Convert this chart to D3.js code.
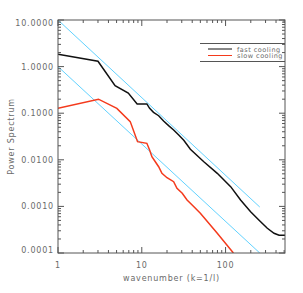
<!DOCTYPE html>
<html lang="en">
  <head>
    <meta charset="UTF-8" />
    <title>Power Spectrum</title>
    <script src="https://cdnjs.cloudflare.com/ajax/libs/d3/7.8.5/d3.min.js"></script>
    <style>
      body,
      html {
        margin: 0;
        padding: 0;
        background: #fff;
      }
      text {
        font-family: "DejaVu Sans", sans-serif;
        font-size: 8px;
        fill: #6a6a6a;
        letter-spacing: 0.8px;
      }
    </style>
  </head>
  <body>
    <svg id="chart" width="303" height="293"></svg>
    <script type="text/javascript">
      // fast cooling (black)
      const fastK = [1, 3.0, 4.8, 6.9, 8.8, 11.5, 12.4, 13.8, 15.9, 18.2, 20.9, 24, 27.6, 31.7, 38, 55, 79.6, 115, 151, 199, 262, 315, 379, 435, 512];
      const fastP = [1.84, 1.3, 0.39, 0.27, 0.158, 0.158, 0.127, 0.1045, 0.0883, 0.068, 0.054, 0.0436, 0.034, 0.0262, 0.0168, 0.0091, 0.00513, 0.00265, 0.00137, 0.00077, 0.00047, 0.00034, 0.000265, 0.00024, 0.00024];

      // slow cooling (red)
      const slowK = [1, 3.04, 5.04, 7.28, 8.9, 11.5, 12.4, 13.2, 14.5, 15.9, 17.4, 20, 24, 26.3, 30.4, 34.7, 39.9, 50, 79.6, 124];
      const slowP = [0.127, 0.2, 0.127, 0.066, 0.0245, 0.0226, 0.0162, 0.0117, 0.0091, 0.0071, 0.00513, 0.00413, 0.00339, 0.00244, 0.00191, 0.00137, 0.00107, 0.00071, 0.000265, 0.0001];

      // reference slopes (cyan), end points only
      const refUpperK = [1, 256];
      const refUpperP = [10, 0.00097];
      const refLowerK = [1, 256];
      const refLowerP = [1, 0.0001];

      const xTicks = [1, 10, 100];
      const xTickLabels = ["1", "10", "100"];
      const yTicks = [10, 1, 0.1, 0.01, 0.001, 0.0001];
      const yTickLabels = ["10.0000", "1.0000", "0.1000", "0.0100", "0.0010", "0.0001"];

      const legendNames = ["fast cooling", "slow cooling"];
      const legendColors = ["#111", "#f43a1c"];

      const svg = d3.select("#chart");
      const pLeft = 58, pRight = 285, pTop = 20, pBottom = 253;

      const x = d3.scaleLog().domain([1, 512]).range([pLeft, pRight]);
      const y = d3.scaleLog().domain([0.0001, 10]).range([pBottom, pTop]);

      svg.append("defs").append("clipPath").attr("id", "clip")
        .append("rect")
        .attr("x", pLeft).attr("y", pTop)
        .attr("width", pRight - pLeft).attr("height", pBottom - pTop);

      const line = d3.line().x((d) => x(d[0])).y((d) => y(d[1]));
      const zip = (a, b) => a.map((v, i) => [v, b[i]]);

      const plot = svg.append("g").attr("clip-path", "url(#clip)");

      // reference lines
      [zip(refUpperK, refUpperP), zip(refLowerK, refLowerP)].forEach((pts) => {
        plot.append("path")
          .attr("d", line(pts))
          .attr("fill", "none")
          .attr("stroke", "#62d2ff")
          .attr("stroke-width", 1);
      });

      plot.append("path")
        .attr("d", line(zip(slowK, slowP)))
        .attr("fill", "none")
        .attr("stroke", legendColors[1])
        .attr("stroke-width", 1.5);

      plot.append("path")
        .attr("d", line(zip(fastK, fastP)))
        .attr("fill", "none")
        .attr("stroke", legendColors[0])
        .attr("stroke-width", 1.5);

      // frame
      const frame = svg.append("g").attr("stroke", "#555").attr("stroke-width", 1);
      frame.append("rect")
        .attr("x", pLeft).attr("y", pTop)
        .attr("width", pRight - pLeft).attr("height", pBottom - pTop)
        .attr("fill", "none");

      // minor/major ticks, x axis (bottom and top)
      const xMinor = [];
      for (let d = 1; d <= 100; d *= 10)
        for (let m = 2; m <= 9; m++) if (d * m <= 512) xMinor.push(d * m);
      xMinor.forEach((v) => {
        frame.append("line").attr("x1", x(v)).attr("x2", x(v)).attr("y1", pBottom).attr("y2", pBottom - 3);
        frame.append("line").attr("x1", x(v)).attr("x2", x(v)).attr("y1", pTop).attr("y2", pTop + 3);
      });
      xTicks.forEach((v) => {
        frame.append("line").attr("x1", x(v)).attr("x2", x(v)).attr("y1", pBottom).attr("y2", pBottom - 6);
        frame.append("line").attr("x1", x(v)).attr("x2", x(v)).attr("y1", pTop).attr("y2", pTop + 6);
      });

      // y axis ticks (left and right)
      const yMinor = [];
      for (let d = 0.0001; d < 10; d *= 10)
        for (let m = 2; m <= 9; m++) yMinor.push(d * m);
      yMinor.forEach((v) => {
        frame.append("line").attr("y1", y(v)).attr("y2", y(v)).attr("x1", pLeft).attr("x2", pLeft + 3);
        frame.append("line").attr("y1", y(v)).attr("y2", y(v)).attr("x1", pRight).attr("x2", pRight - 3);
      });
      yTicks.forEach((v) => {
        frame.append("line").attr("y1", y(v)).attr("y2", y(v)).attr("x1", pLeft).attr("x2", pLeft + 6);
        frame.append("line").attr("y1", y(v)).attr("y2", y(v)).attr("x1", pRight).attr("x2", pRight - 6);
      });

      // tick labels
      svg.selectAll(".xlab").data(xTicks).join("text")
        .attr("class", "xlab")
        .attr("x", (d) => x(d))
        .attr("y", 268)
        .attr("text-anchor", "middle")
        .text((d, i) => xTickLabels[i]);

      svg.selectAll(".ylab").data(yTicks).join("text")
        .attr("class", "ylab")
        .attr("x", 54)
        .attr("y", (d, i) => y(d) + 3 + (i === 0 ? 3 : 0) - (i === yTicks.length - 1 ? 3 : 0))
        .attr("text-anchor", "end")
        .text((d, i) => yTickLabels[i]);

      svg.append("text")
        .attr("x", (pLeft + pRight) / 2)
        .attr("y", 281)
        .attr("text-anchor", "middle")
        .text("wavenumber (k=1/l)");

      svg.append("text")
        .attr("transform", "translate(14," + (pTop + pBottom) / 2 + ") rotate(-90)")
        .attr("text-anchor", "middle")
        .text("Power Spectrum");

      // legend
      const lg = svg.append("g");
      lg.append("line").attr("x1", 200).attr("x2", pRight).attr("y1", 43.5).attr("y2", 43.5).attr("stroke", "#555");
      lg.append("line").attr("x1", 200).attr("x2", pRight).attr("y1", 61.5).attr("y2", 61.5).attr("stroke", "#555");
      legendNames.forEach((name, i) => {
        const ly = 49 + i * 6.5;
        lg.append("line")
          .attr("x1", 208).attr("x2", 232)
          .attr("y1", ly).attr("y2", ly)
          .attr("stroke", legendColors[i])
          .attr("stroke-width", 1);
        lg.append("text")
          .attr("x", 237).attr("y", ly + 2.5)
          .style("font-size", "6.5px")
          .style("letter-spacing", "0.5px")
          .text(name);
      });
    </script>
  </body>
</html>
